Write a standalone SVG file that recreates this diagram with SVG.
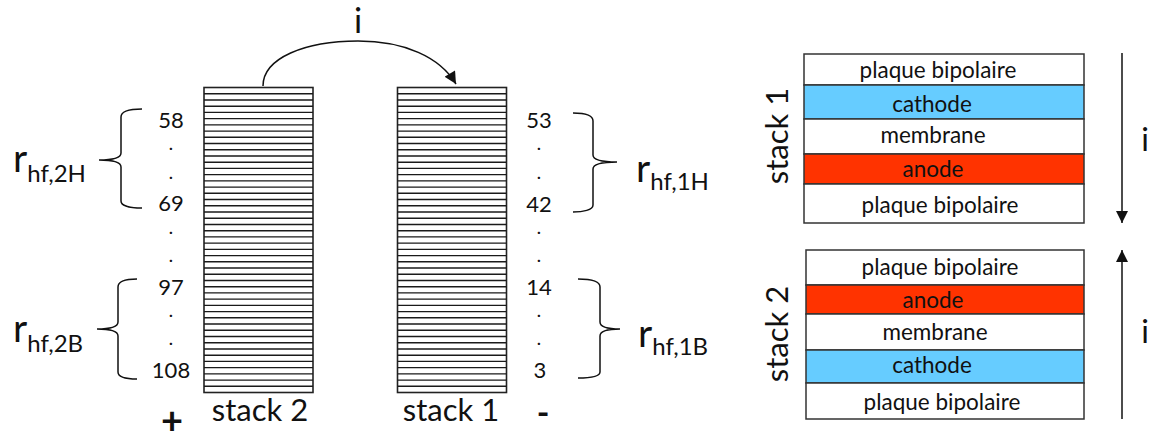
<svg xmlns="http://www.w3.org/2000/svg" width="1149" height="434" viewBox="0 0 1149 434">
<style>
  text { font-family: Lato, "Liberation Sans", sans-serif; fill: #111; }
  .num { font-size: 22px; text-anchor: middle; }
  .dot { font-size: 16px; text-anchor: middle; font-weight: bold; }
  .big { font-size: 31px; }
  .r { font-size: 39px; }
  .sub { font-size: 24px; }
  .lay { font-size: 22.5px; text-anchor: middle; }
  .frame { fill: #fff; stroke: #222; stroke-width: 1.6; }
  .hatch { fill: none; stroke: #1a1a1a; stroke-width: 1.4; }
  .brace { fill: none; stroke: #111; stroke-width: 1.5; }
  .conn { fill: none; stroke: #111; stroke-width: 1.5; }
  .layer { stroke: #333; stroke-width: 1.5; }
  .white { fill: #fff; }
  .cath { fill: #66CCFF; }
  .anod { fill: #FF3300; }
</style>
<defs>
  <marker id="ah" viewBox="0 0 10 10" refX="10" refY="5" markerUnits="userSpaceOnUse" markerWidth="14" markerHeight="12" orient="auto">
    <path d="M0,0 L10,5 L0,10 z" fill="#111"/>
  </marker>
  <path id="hatchlines" class="hatch" d="M0,6.2h109M0,12.45h109M0,18.7h109M0,24.9h109M0,31.1h109M0,37.35h109M0,43.6h109M0,49.8h109M0,56h109M0,62.25h109M0,68.5h109M0,74.7h109M0,80.9h109M0,87.15h109M0,93.4h109M0,99.6h109M0,105.8h109M0,112.05h109M0,118.3h109M0,124.5h109M0,130.7h109M0,136.95h109M0,143.2h109M0,149.4h109M0,155.6h109M0,161.85h109M0,168.1h109M0,174.3h109M0,180.5h109M0,186.75h109M0,193h109M0,199.2h109M0,205.4h109M0,211.65h109M0,217.9h109M0,224.1h109M0,230.3h109M0,236.55h109M0,242.8h109M0,249h109M0,255.2h109M0,261.45h109M0,267.7h109M0,273.9h109M0,280.1h109M0,286.35h109M0,292.6h109M0,298.8h109"/>
</defs>

<g id="stack2-column">
  <rect class="frame" x="204" y="87.5" width="109" height="305"/>
  <use href="#hatchlines" x="204" y="87.5"/>
  <text class="big" x="260" y="421" text-anchor="middle">stack 2</text>
  <text x="172" y="434" font-family="'Liberation Sans', sans-serif" font-size="38" font-weight="bold" text-anchor="middle">+</text>
</g>

<g id="stack1-column">
  <rect class="frame" x="397.5" y="87.5" width="109" height="305"/>
  <use href="#hatchlines" x="397.5" y="87.5"/>
  <text class="big" x="451" y="421" text-anchor="middle">stack 1</text>
  <text x="543" y="425" font-size="34" font-weight="bold" text-anchor="middle">-</text>
</g>

<g id="stack2-labels">
  <text class="num" x="171" y="128">58</text>
  <text class="dot" x="171" y="150">.</text>
  <text class="dot" x="171" y="179">.</text>
  <text class="num" x="171" y="211">69</text>
  <text class="dot" x="171" y="234">.</text>
  <text class="dot" x="171" y="262">.</text>
  <text class="num" x="171" y="295">97</text>
  <text class="dot" x="171" y="317">.</text>
  <text class="dot" x="171" y="345">.</text>
  <text class="num" x="171" y="378">108</text>
</g>

<g id="stack1-labels">
  <text class="num" x="539" y="128">53</text>
  <text class="dot" x="539" y="150">.</text>
  <text class="dot" x="539" y="179">.</text>
  <text class="num" x="539" y="212">42</text>
  <text class="dot" x="539" y="234">.</text>
  <text class="dot" x="539" y="262">.</text>
  <text class="num" x="539" y="295">14</text>
  <text class="dot" x="539" y="317">.</text>
  <text class="dot" x="539" y="345">.</text>
  <text class="num" x="540" y="378">3</text>
</g>

<g id="brace-2H">
  <path class="brace" d="M142,109 C131,109 121,111 121,117 L121,153 C121,158 112,160 99,160 C112,160 121,162 121,167 L121,201 C121,206 131,208 142,208"/>
  <text x="13" y="172"><tspan class="r">r</tspan><tspan class="sub" y="182">hf,2H</tspan></text>
</g>
<g id="brace-2B">
  <path class="brace" d="M137,279 C127,279 118,281 118,287 L118,322 C118,327 110,329 97,329 C110,329 118,331 118,336 L118,372 C118,377 127,379 137,379"/>
  <text x="13" y="342"><tspan class="r">r</tspan><tspan class="sub" y="352">hf,2B</tspan></text>
</g>
<g id="brace-1H">
  <path class="brace" d="M573,113 C583,113 593,115 593,121 L593,155 C593,160 603,162 617,162 C603,162 593,164 593,169 L593,205 C593,210 583,212 573,212"/>
  <text x="636" y="182"><tspan class="r">r</tspan><tspan class="sub" y="190">hf,1H</tspan></text>
</g>
<g id="brace-1B">
  <path class="brace" d="M578,279 C589,279 600,281 600,287 L600,322 C600,327 608,329 620,329 C608,329 600,331 600,336 L600,372 C600,377 589,378 578,378"/>
  <text x="638" y="347"><tspan class="r">r</tspan><tspan class="sub" y="355">hf,1B</tspan></text>
</g>

<g id="connectors">
  <path class="conn" d="M263,86 C263,58 305,41 358,41 C404,41 440,57 456,84" marker-end="url(#ah)"/>
  <path class="conn" d="M1122,53 L1122,223" marker-end="url(#ah)"/>
  <path class="conn" d="M1122,419 L1122,250" marker-end="url(#ah)"/>
</g>
<text x="358" y="33" font-size="34" text-anchor="middle">i</text>
<text x="1145" y="151" font-size="32" text-anchor="middle">i</text>
<text x="1145" y="343" font-size="32" text-anchor="middle">i</text>

<g id="stack1-cell">
  <rect class="layer white" x="804" y="54" width="280" height="31"/>
  <rect class="layer cath" x="804" y="85" width="280" height="34"/>
  <rect class="layer white" x="804" y="119" width="280" height="35"/>
  <rect class="layer anod" x="804" y="154" width="280" height="30"/>
  <rect class="layer white" x="804" y="184" width="280" height="39"/>
  <text class="lay" x="938" y="78">plaque bipolaire</text>
  <text class="lay" x="932" y="112">cathode</text>
  <text class="lay" x="933" y="143">membrane</text>
  <text class="lay" x="933" y="177">anode</text>
  <text class="lay" x="940" y="213">plaque bipolaire</text>
  <text class="big" transform="translate(788,136) rotate(-90)" text-anchor="middle">stack 1</text>
</g>

<g id="stack2-cell">
  <rect class="layer white" x="806" y="250" width="278" height="35"/>
  <rect class="layer anod" x="806" y="285" width="278" height="29"/>
  <rect class="layer white" x="806" y="314" width="278" height="36"/>
  <rect class="layer cath" x="806" y="350" width="278" height="33"/>
  <rect class="layer white" x="806" y="383" width="278" height="36"/>
  <text class="lay" x="940" y="275">plaque bipolaire</text>
  <text class="lay" x="933" y="308">anode</text>
  <text class="lay" x="935" y="340">membrane</text>
  <text class="lay" x="932" y="373">cathode</text>
  <text class="lay" x="942" y="410">plaque bipolaire</text>
  <text class="big" transform="translate(788,334) rotate(-90)" text-anchor="middle">stack 2</text>
</g>
</svg>
